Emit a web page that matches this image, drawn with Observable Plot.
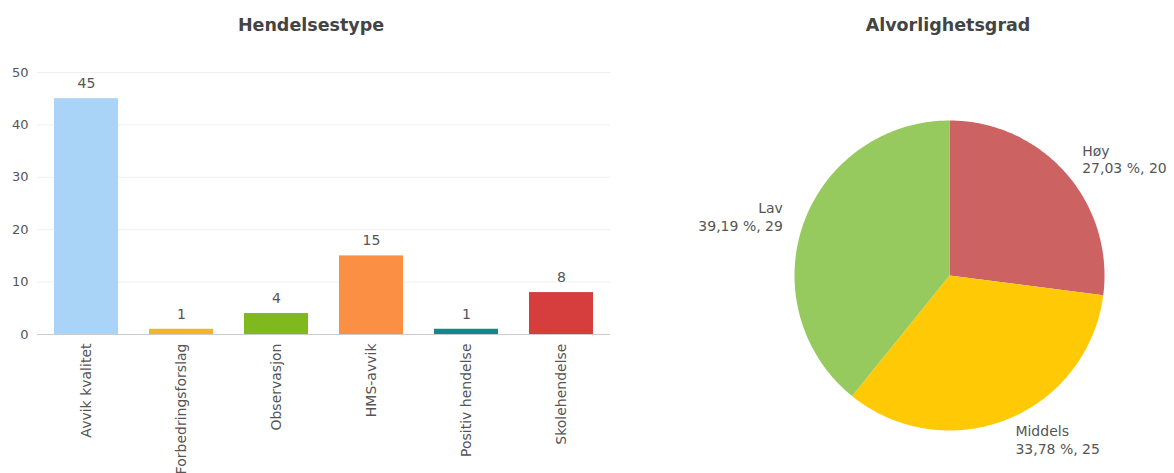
<!DOCTYPE html>
<html>
<head>
<meta charset="utf-8">
<script src="https://cdn.jsdelivr.net/npm/d3@7"></script>
<script src="https://cdn.jsdelivr.net/npm/@observablehq/plot@0.6"></script>
<style>
  html, body { margin: 0; padding: 0; background: #fff; overflow: hidden; }
  #wrap { position: relative; width: 1174px; height: 473px; font-family: "DejaVu Sans", Verdana, sans-serif; }
  .title { position: absolute; top: 14px; font-weight: bold; font-size: 17.5px; color: #444; text-align: center; line-height: 22px; }
  #bar { position: absolute; left: 0; top: 0; }
  #pie { position: absolute; left: 620px; top: 0; }
</style>
</head>
<body>
<div id="wrap">
  <div class="title" style="left:0;width:622px;">Hendelsestype</div>
  <div class="title" style="left:760px;width:376px;">Alvorlighetsgrad</div>
  <div id="bar"></div>
  <div id="pie"></div>
</div>
<script>
// ---- Data ----
const categories = ["Avvik kvalitet", "Forbedringsforslag", "Observasjon", "HMS-avvik", "Positiv hendelse", "Skolehendelse"];
const counts = [45, 1, 4, 15, 1, 8];
const barColors = ["#a9d3f7", "#f2b624", "#80b91d", "#fb8f44", "#12888a", "#d63d3d"];
const yTicks = [0, 10, 20, 30, 40, 50];

const severity = ["Høy", "Middels", "Lav"];
const severityCounts = [20, 25, 29];
const severityColors = ["#cd6262", "#ffca05", "#97ca5e"];

// ---- Bar chart ----
const barData = categories.map((name, i) => ({name, value: counts[i]}));

const bar = Plot.plot({
  width: 620,
  height: 473,
  marginLeft: 37,
  marginRight: 10,
  marginTop: 72,
  marginBottom: 139,
  style: {fontFamily: "DejaVu Sans, Verdana, sans-serif", fontSize: "14px", color: "#555", background: "transparent", overflow: "hidden"},
  x: {domain: categories, paddingInner: 0.33, paddingOuter: 0.165, tickRotate: -90, tickSize: 0, tickPadding: 9, label: null},
  y: {domain: [0, 50], ticks: yTicks, tickSize: 0, tickPadding: 9, label: null},
  color: {domain: categories, range: barColors},
  marks: [
    Plot.ruleY(yTicks.filter(d => d > 0), {stroke: "#f0f0f0"}),
    Plot.barY(barData, {x: "name", y: "value", fill: "name"}),
    Plot.ruleY([0], {stroke: "#ccc"}),
    Plot.axisY({ticks: yTicks, tickSize: 0, tickPadding: 9, fontSize: 13, label: null}),
    Plot.text(barData, {x: "name", y: "value", text: d => String(d.value), dy: -15, fill: "#555"})
  ]
});
document.getElementById("bar").appendChild(bar);

// ---- Pie chart ----
const total = d3.sum(severityCounts);
let acc = 0;
const slices = severity.map((name, i) => {
  const v = severityCounts[i];
  const a0 = acc / total * 2 * Math.PI;
  acc += v;
  const a1 = acc / total * 2 * Math.PI;
  const pct = (v / total * 100).toFixed(2).replace(".", ",");
  return {name, value: v, a0, a1, mid: (a0 + a1) / 2, label: `${name}\n${pct} %, ${v}`};
});

const polyPoints = [];
for (const s of slices) {
  polyPoints.push({name: s.name, px: 0, py: 0});
  const n = 120;
  for (let k = 0; k <= n; ++k) {
    const a = s.a0 + (s.a1 - s.a0) * k / n;
    polyPoints.push({name: s.name, px: Math.sin(a), py: Math.cos(a)});
  }
}

const lr = 1.14;
const labelRight = slices.filter(s => Math.sin(s.mid) >= 0);
const labelLeft = slices.filter(s => Math.sin(s.mid) < 0);

const pie = Plot.plot({
  width: 554,
  height: 473,
  style: {fontFamily: "DejaVu Sans, Verdana, sans-serif", fontSize: "14px", color: "#555", background: "transparent"},
  x: {domain: [-1, 1], range: [174, 484], axis: null},
  y: {domain: [-1, 1], range: [430, 120], axis: null},
  color: {domain: severity, range: severityColors},
  marks: [
    Plot.line(polyPoints, {x: "px", y: "py", z: "name", fill: "name", stroke: "none", curve: "linear-closed"}),
    Plot.text(labelRight, {x: d => lr * Math.sin(d.mid), y: d => lr * Math.cos(d.mid), text: "label", textAnchor: "start", lineHeight: 1.25, fill: "#555"}),
    Plot.text(labelLeft, {x: d => lr * Math.sin(d.mid), y: d => lr * Math.cos(d.mid), text: "label", textAnchor: "end", lineHeight: 1.25, fill: "#555"})
  ]
});
document.getElementById("pie").appendChild(pie);
</script>
</body>
</html>
